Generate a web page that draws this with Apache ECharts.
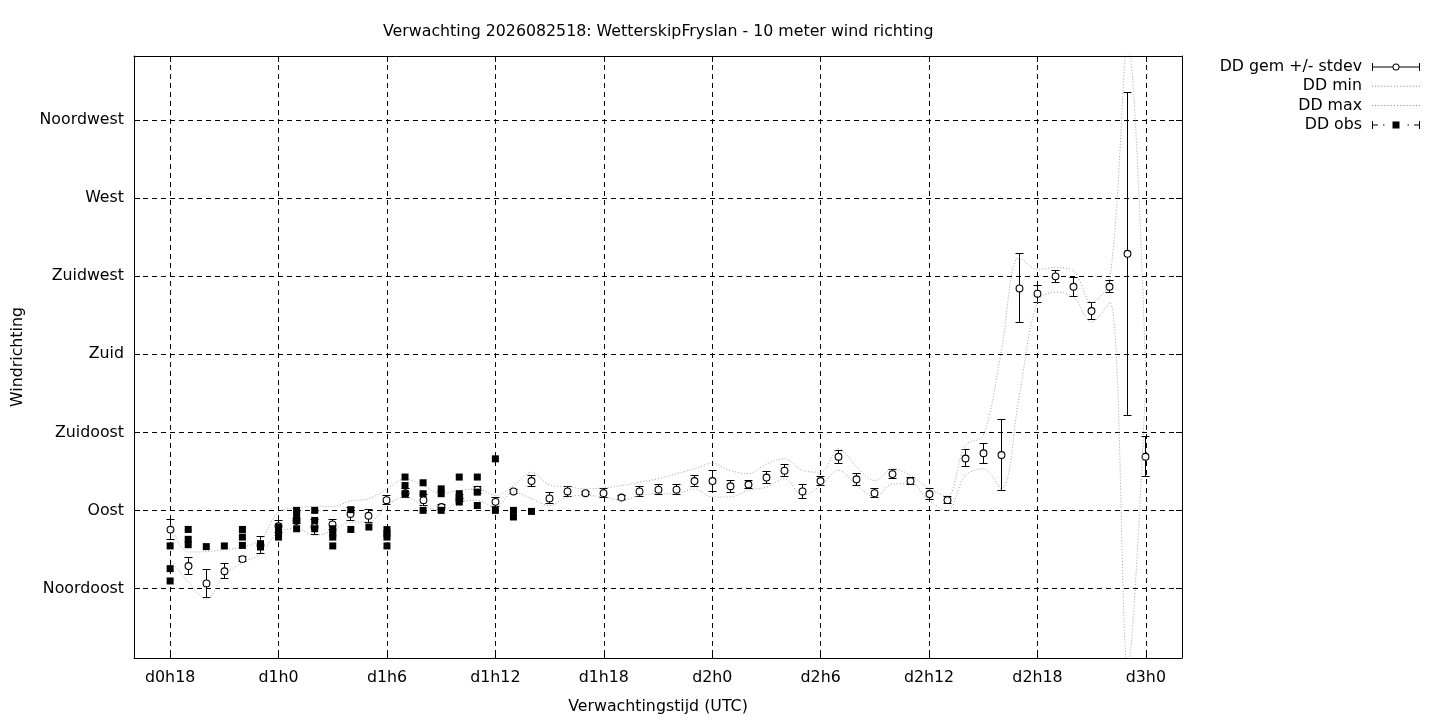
<!DOCTYPE html>
<html>
<head>
<meta charset="utf-8">
<title>Verwachting 10 meter wind richting</title>
<script src="https://cdn.jsdelivr.net/npm/echarts@6/dist/echarts.min.js"></script>
<style>
html, body { margin: 0; padding: 0; background: #fff; }
#chart { width: 1440px; height: 720px; }
</style>
</head>
<body>
<div id="chart"></div>
<script>
// forecast hours since d0h0 (hourly)
var hours = [18, 19, 20, 21, 22, 23, 24, 25, 26, 27, 28, 29, 30, 31, 32, 33, 34, 35, 36,
    37, 38, 39, 40, 41, 42, 43, 44, 45, 46, 47, 48, 49, 50, 51, 52, 53, 54, 55, 56, 57,
    58, 59, 60, 61, 62, 63, 64, 65, 66, 67, 68, 69, 70, 71, 72];

// ensemble mean direction (degrees) and standard deviation
var ddMean = [79, 58, 48, 55, 62, 70, 81, 84, 80.5, 82, 88, 87, 96, 100, 96, 92, 97, 102, 95,
    101, 107, 97, 101, 100, 100, 97.5, 101, 102, 102, 107, 107, 104, 105, 109, 113, 101, 107, 121, 108, 100,
    111, 107, 99.5, 96, 120, 123, 122, 218, 215, 225, 219, 205, 219, 238, 121];
var ddStd = [5.7, 5, 8, 4.4, 1.5, 4.8, 3.5, 1.5, 4.3, 3, 3.6, 3.7, 2.7, 2.5, 3, 1.5, 2, 2, 2.5,
    1, 3.3, 3.2, 3, 1, 2.5, 1.2, 2.8, 2.8, 2.8, 3, 5.9, 3.4, 2.5, 3.6, 3.4, 3.8, 2.6, 3.6, 3.4, 2.7,
    2.6, 1.9, 3.4, 2.2, 4.9, 5.8, 20.6, 19.9, 4.8, 3.6, 5.5, 5, 3.4, 93, 11.5];

// ensemble min / max direction (degrees)
var ddMin = [62, 49, 39, 53, 60, 65, 77.6, 79.5, 75.7, 78.5, 83.4, 83.4, 92.9, 97.8, 92.9, 90.1, 94.9, 95.8, 92,
    100.6, 96.8, 92.9, 97.8, 98.7, 97.8, 95.8, 98.7, 99.7, 99.7, 102.5, 97.8, 97.8, 101.6, 103.5, 108.3, 98.7, 104.4, 113.1, 104.4, 97.8,
    105.4, 105.4, 95.8, 89.9, 110.2, 114, 102.5, 156.6, 210.1, 215.9, 213, 198.6, 210.1, 0, 165];
var ddMax = [82, 66.1, 66.3, 67.4, 69, 73.2, 89.1, 91.4, 92.5, 92.2, 95.6, 96.8, 102.5, 108.3, 104.4, 99.7, 101.6, 102.5, 98.7,
    104.4, 112.1, 104.8, 103.7, 102.5, 103.1, 104.4, 106.4, 108.3, 111.2, 114, 117.3, 113.1, 111.2, 116.9, 119.8, 113.1, 112.1, 125.6, 115, 107.3,
    114, 110.2, 102.5, 98.5, 127.5, 133.2, 182, 236, 229, 230, 228, 210, 223, 360, 168];

// observations (several per hour)
var obsHours = [18, 18, 18, 19, 19, 19, 20, 21, 22, 22, 22, 23, 23, 24, 24, 24,
    25, 25, 25, 25, 26, 26, 26, 27, 27, 27, 27, 28, 28, 29, 30, 30, 30, 30,
    31, 31, 31, 32, 32, 32, 33, 33, 33, 34, 34, 34, 34, 35, 35, 35, 36, 36, 37, 37, 38];
var obsDirs = [69.6, 56.5, 49.4, 79.1, 73.4, 70.3, 69.2, 69.6, 79.1, 74.7, 69.9, 70.9, 69, 80.5, 77.6, 74.7,
    90.1, 87.2, 84.3, 79.5, 90.1, 84.3, 79.5, 79.5, 76.6, 74.7, 69.6, 90.5, 79.1, 80.5, 79, 76.6, 74.7, 69.6,
    109.3, 104.4, 99.7, 106, 99.7, 90.1, 102.5, 99.7, 90.1, 109.3, 99.7, 97.2, 94.9, 109.3, 100.6, 92.9, 119.8, 90.1, 90.1, 86.3, 89.5];

// axis ticks
var xTickValues = [18, 24, 30, 36, 42, 48, 54, 60, 66, 72];
var xTickLabels = ['d0h18', 'd1h0', 'd1h6', 'd1h12', 'd1h18', 'd2h0', 'd2h6', 'd2h12', 'd2h18', 'd3h0'];
var yTickValues = [45, 90, 135, 180, 225, 270, 315];
var yTickLabels = ['Noordoost', 'Oost', 'Zuidoost', 'Zuid', 'Zuidwest', 'West', 'Noordwest'];

var FONT = 'DejaVu Sans';
var FSIZE = 15.8;

var meanData = [], minData = [], maxData = [], obsData = [];
for (var i = 0; i < hours.length; i++) {
    meanData.push([hours[i], ddMean[i], ddMean[i] - ddStd[i], ddMean[i] + ddStd[i]]);
    minData.push([hours[i], ddMin[i]]);
    maxData.push([hours[i], ddMax[i]]);
}
for (var j = 0; j < obsHours.length; j++) {
    obsData.push([obsHours[j], obsDirs[j]]);
}

// legend icons (48 x 10 box)
var iconGem = 'path://M0,1H1V9H0Z M47,1H48V9H47Z M0,4.5H20.6V5.5H0Z M27.4,4.5H48V5.5H27.4Z ' +
    'M20.5,5A3.5,3.5 0 1,1 27.5,5A3.5,3.5 0 1,1 20.5,5Z M21.5,5A2.5,2.5 0 1,0 26.5,5A2.5,2.5 0 1,0 21.5,5Z';
var iconDots = 'path://';
for (var d = 0; d < 48; d += 3) {
    iconDots += 'M' + d + ',4.5h1v1h-1Z ';
}
var iconObs = 'path://M0,1H1V9H0Z M47,1H48V9H47Z M0,4.5H6V5.5H0Z M11,4.5H12.5V5.5H11Z M20.5,1.5H27.5V8.5H20.5Z ' +
    'M35.5,4.5H37V5.5H35.5Z M42,4.5H48V5.5H42Z';

// snap to pixel centre so 1px strokes stay crisp
function px(v) { return Math.round(v - 0.5) + 0.5; }

var chart = echarts.init(document.getElementById('chart'));

var option = {
    animation: false,
    backgroundColor: '#fff',
    title: {
        text: 'Verwachting 2026082518: WetterskipFryslan - 10 meter wind richting',
        left: 378,
        top: 19,
        textStyle: { fontFamily: FONT, fontSize: FSIZE, fontWeight: 'normal', color: '#000' }
    },
    legend: {
        orient: 'vertical',
        right: 15,
        top: 54,
        align: 'right',
        itemWidth: 48,
        itemHeight: 10,
        itemGap: 3.3,
        symbolKeepAspect: true,
        selectedMode: false,
        textStyle: { fontFamily: FONT, fontSize: FSIZE, color: '#000', lineHeight: 15, padding: [0, 5, 0, 0] },
        data: [
            { name: 'DD gem +/- stdev', icon: iconGem, itemStyle: { color: '#000', borderWidth: 0 } },
            { name: 'DD min', icon: iconDots, itemStyle: { color: '#888', borderWidth: 0 } },
            { name: 'DD max', icon: iconDots, itemStyle: { color: '#888', borderWidth: 0 } },
            { name: 'DD obs', icon: iconObs, itemStyle: { color: '#000', borderWidth: 0 } }
        ]
    },
    grid: { left: 134, right: 258, top: 56, bottom: 61 },
    xAxis: [
        {
            type: 'value',
            min: 16,
            max: 74,
            name: 'Verwachtingstijd (UTC)',
            nameLocation: 'middle',
            nameGap: 41,
            nameTextStyle: { fontFamily: FONT, fontSize: FSIZE, color: '#000' },
            axisLine: { onZero: false, lineStyle: { color: '#000', width: 1 } },
            axisTick: { inside: true, length: 6, customValues: xTickValues, lineStyle: { color: '#000' } },
            axisLabel: {
                customValues: xTickValues,
                margin: 12,
                fontFamily: FONT, fontSize: FSIZE, color: '#000',
                formatter: function (v) { return xTickLabels[xTickValues.indexOf(v)]; }
            },
            splitLine: { show: true, lineStyle: { color: '#000', width: 1, type: [5, 4] } }
        },
        {
            type: 'value',
            position: 'top',
            min: 16,
            max: 74,
            axisLine: { onZero: false, lineStyle: { color: '#000', width: 1 } },
            axisTick: { inside: true, length: 6, customValues: xTickValues, lineStyle: { color: '#000' } },
            axisLabel: { show: false },
            splitLine: { show: false }
        }
    ],
    yAxis: [
        {
            type: 'value',
            min: 5,
            max: 352,
            name: 'Windrichting',
            nameLocation: 'middle',
            nameGap: 108,
            nameTextStyle: { fontFamily: FONT, fontSize: FSIZE, color: '#000' },
            axisLine: { show: true, onZero: false, lineStyle: { color: '#000', width: 1 } },
            axisTick: { show: true, inside: true, length: 6, customValues: yTickValues, lineStyle: { color: '#000' } },
            axisLabel: {
                customValues: yTickValues,
                margin: 10,
                fontFamily: FONT, fontSize: FSIZE, color: '#000',
                formatter: function (v) { return yTickLabels[yTickValues.indexOf(v)]; }
            },
            splitLine: { show: true, lineStyle: { color: '#000', width: 1, type: [5, 4] } }
        },
        {
            type: 'value',
            position: 'right',
            min: 5,
            max: 352,
            axisLine: { show: true, onZero: false, lineStyle: { color: '#000', width: 1 } },
            axisTick: { show: true, inside: true, length: 6, customValues: yTickValues, lineStyle: { color: '#000' } },
            axisLabel: { show: false },
            splitLine: { show: false }
        }
    ],
    series: [
        {
            name: 'DD gem +/- stdev',
            type: 'custom',
            data: meanData,
            encode: { x: 0, y: [1, 2, 3] },
            renderItem: function (params, api) {
                var pc = api.coord([api.value(0), api.value(1)]);
                var pl = api.coord([api.value(0), api.value(2)]);
                var ph = api.coord([api.value(0), api.value(3)]);
                var x = px(pc[0]), yl = px(pl[1]), yh = px(ph[1]);
                var w = 4;
                var st = { stroke: '#000', lineWidth: 1, fill: null };
                return {
                    type: 'group',
                    children: [
                        { type: 'line', shape: { x1: x, y1: yl, x2: x, y2: yh }, style: st },
                        { type: 'line', shape: { x1: x - w, y1: yl, x2: x + w, y2: yl }, style: st },
                        { type: 'line', shape: { x1: x - w, y1: yh, x2: x + w, y2: yh }, style: st },
                        { type: 'circle', shape: { cx: x, cy: pc[1], r: 3.4 }, style: { fill: '#fff', stroke: '#000', lineWidth: 1.1 } }
                    ]
                };
            },
            z: 2
        },
        {
            name: 'DD min',
            type: 'line',
            data: minData,
            smooth: 0.35,
            symbol: 'none',
            clip: true,
            lineStyle: { color: '#a0a0a0', width: 1, type: [1, 2] },
            z: 3
        },
        {
            name: 'DD max',
            type: 'line',
            data: maxData,
            smooth: 0.35,
            symbol: 'none',
            clip: true,
            lineStyle: { color: '#a0a0a0', width: 1, type: [1, 2] },
            z: 3
        },
        {
            name: 'DD obs',
            type: 'scatter',
            data: obsData,
            symbol: 'rect',
            symbolSize: 7,
            itemStyle: { color: '#000', opacity: 1 },
            z: 4
        }
    ]
};

chart.setOption(option);
</script>
</body>
</html>
